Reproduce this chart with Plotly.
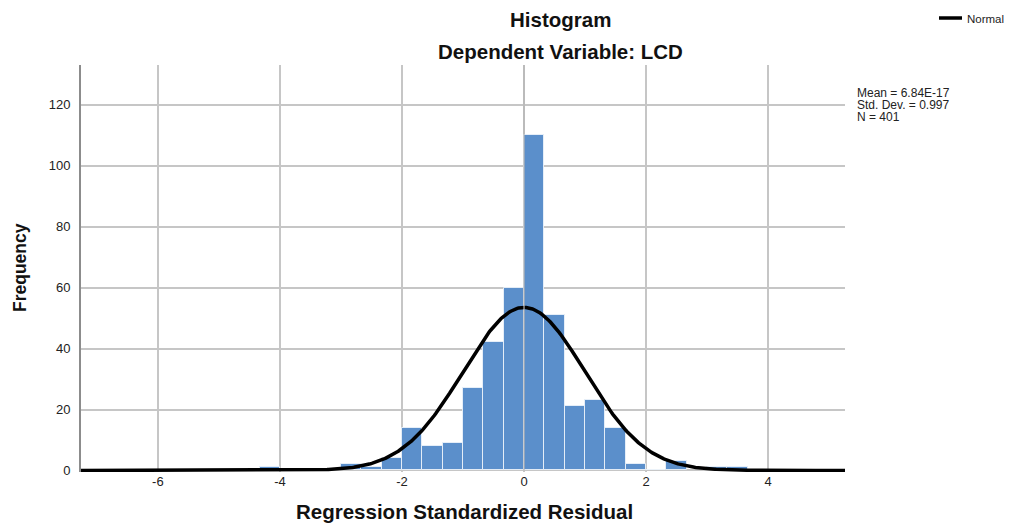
import numpy as np
import plotly.graph_objects as go

# ---- data ----
bin_width = 1 / 3
bin_left = [-13/3, -3.0, -8/3, -7/3, -2.0, -5/3, -4/3, -1.0, -2/3, -1/3,
            0.0, 1/3, 2/3, 1.0, 4/3, 5/3, 2.0, 7/3, 3.0, 10/3]
counts = [1, 2, 1, 4, 14, 8, 9, 27, 42, 60,
          110, 51, 21, 23, 14, 2, 0, 3, 1, 1]
mean_val = 6.84e-17
std_dev = 0.997
n_obs = 401
x_ticks = [-6, -4, -2, 0, 2, 4]
x_tick_text = ["-6", "-4", "-2", "0", "2", "4"]
y_ticks = [0, 20, 40, 60, 80, 100, 120]

FONT = "Arial, 'Liberation Sans', sans-serif"

bin_center = [b + bin_width / 2 for b in bin_left]

x_min, x_max = -7.26, 5.26
xs = np.linspace(x_min, x_max, 600)
ys = n_obs * bin_width * np.exp(-0.5 * ((xs - mean_val) / std_dev) ** 2) / (std_dev * np.sqrt(2 * np.pi))

fig = go.Figure()
fig.add_trace(go.Bar(
    x=bin_center, y=counts, width=bin_width,
    marker=dict(color="#5b8fcb", line=dict(color="rgba(235,242,250,0.9)", width=1)),
    showlegend=False, hoverinfo="x+y",
))
fig.add_trace(go.Scatter(
    x=xs, y=ys, mode="lines", name="Normal",
    line=dict(color="black", width=3.5), showlegend=False,
))

# reference line at 0 drawn over bars
fig.add_shape(type="line", x0=0, x1=0, y0=0, y1=133, xref="x", yref="y",
              line=dict(color="#b4b4b4", width=1.2), layer="above")

# page pixel positions (page has an 8px body offset)
OFF = 8
L, R, T, B = 81 - OFF, 845 - OFF, 65 - OFF, 472 - OFF

fig.update_layout(
    width=1014, height=524,
    margin=dict(l=L, r=1014 - R, t=T, b=524 - B, autoexpand=False),
    paper_bgcolor="white", plot_bgcolor="white",
    font=dict(family=FONT, color="#222", size=13),
    bargap=0,
    showlegend=False,
    xaxis=dict(range=[x_min, x_max], tickvals=x_ticks, ticktext=x_tick_text, showgrid=True,
               gridcolor="#c6c6c6", gridwidth=1.5, zeroline=False, showline=False, ticks="",
               tickfont=dict(size=13, color="#222"), automargin=False),
    yaxis=dict(range=[-0.5, 133], tickvals=y_ticks, showgrid=True, gridcolor="#c6c6c6",
               gridwidth=1.5, zeroline=False, showline=True, linecolor="#8c8c8c", linewidth=2,
               ticks="", ticklabelstandoff=6, tickfont=dict(size=13, color="#222"),
               automargin=False),
)

def px(x):
    return (x - OFF - L) / (R - L)

def py(y):
    return (B - (y - OFF)) / (B - T)

# annotations given in page pixel positions (centre of text line)
def px_ann(text, x, y, size, xanchor="center", angle=0, color="#111"):
    fig.add_annotation(text=text, x=px(x), y=py(y),
                       xref="paper", yref="paper", showarrow=False,
                       xanchor=xanchor, yanchor="middle",
                       textangle=angle, font=dict(size=size, family=FONT, color=color))

px_ann("<b>Histogram</b>", 560, 20, 20.5)
px_ann("<b>Dependent Variable: LCD</b>", 560, 52, 20.5)
px_ann("<b>Regression Standardized Residual</b>", 464, 512, 20.5)
px_ann("<b>Frequency</b>", 20, 268, 17.5, angle=-90)
px_ann("Mean = 6.84E-17", 855, 93, 12, xanchor="left", color="#222")
px_ann(f"Std. Dev. = {std_dev}", 855, 105, 12, xanchor="left", color="#222")
px_ann(f"N = {n_obs}", 855, 117, 12, xanchor="left", color="#222")

# legend entry for the Normal curve
fig.add_shape(type="line", xref="paper", yref="paper", x0=px(939), x1=px(962),
              y0=py(18), y1=py(18), line=dict(color="black", width=3.5))
px_ann("Normal", 965, 19, 11.5, xanchor="left", color="#222")

fig.write_html("out.html")
